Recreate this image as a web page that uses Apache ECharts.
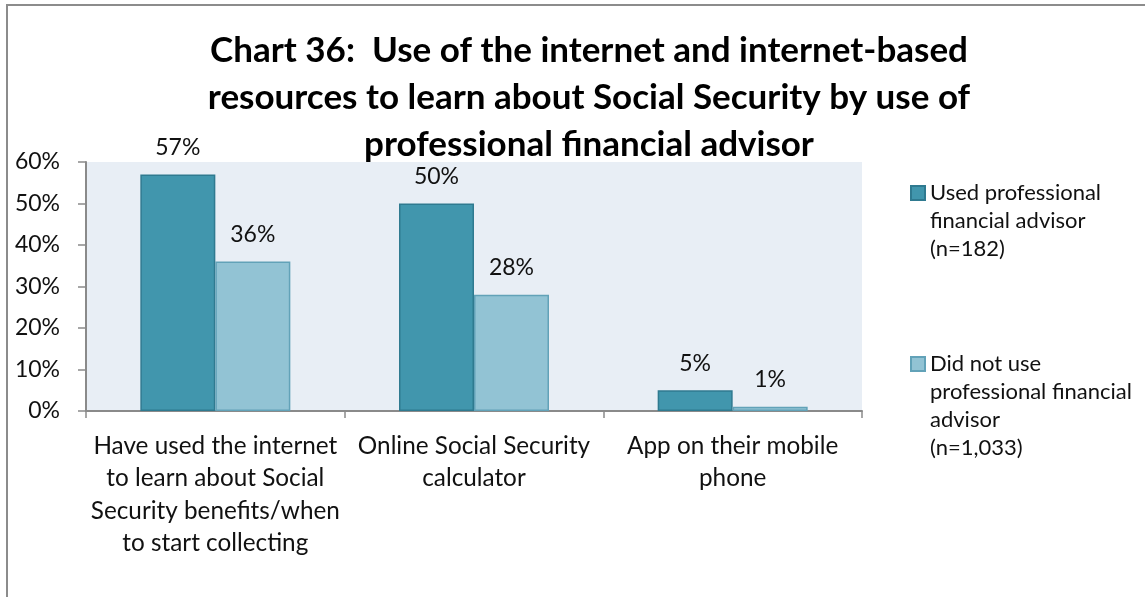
<!DOCTYPE html>
<html>
<head>
<meta charset="utf-8">
<script src="https://cdn.jsdelivr.net/npm/echarts@6/dist/echarts.min.js"></script>
<style>
  html, body { margin: 0; padding: 0; background: #ffffff; }
  #chart { width: 1145px; height: 597px; }
</style>
</head>
<body>
<div id="chart"></div>
<script>
// Survey results: share of respondents using each internet resource
const titleLines = [
  'Chart 36:  Use of the internet and internet-based',
  'resources to learn about Social Security by use of',
  'professional financial advisor'
];
const categories = [
  'Have used the internet\nto learn about Social\nSecurity benefits/when\nto start collecting',
  'Online Social Security\ncalculator',
  'App on their mobile\nphone'
];
const seriesNames = [
  'Used professional\nfinancial advisor\n(n=182)',
  'Did not use\nprofessional financial\nadvisor\n(n=1,033)'
];
const usedAdvisor = [57, 50, 5];
const noAdvisor = [36, 28, 1];
const yTicks = { min: 0, max: 60, interval: 10 };

const FONT = 'Lato, "Open Sans", sans-serif';
const TEXT = '#111111';
const AXIS = '#8a8a8a';
const LEGEND_LINE = 28;

const chart = echarts.init(document.getElementById('chart'), null, { renderer: 'canvas' });

const labelStyle = {
  show: true,
  position: 'top',
  distance: 16,
  formatter: '{c}%',
  fontFamily: FONT,
  fontSize: 23,
  lineHeight: 22,
  color: TEXT
};

// One legend block per series; leading blank lines keep the swatch
// level with the first line of the (vertically centred) label text
function legendBlock(name, top) {
  const lineCount = name.split('\n').length;
  return {
    orient: 'vertical',
    left: 910,
    top: top,
    padding: 0,
    itemWidth: 14,
    itemHeight: 14,
    icon: 'rect',
    selectedMode: false,
    data: [name],
    formatter: n => '\n'.repeat(lineCount - 1) + n,
    textStyle: {
      fontFamily: FONT,
      fontSize: 22,
      lineHeight: LEGEND_LINE,
      color: TEXT
    }
  };
}

chart.setOption({
  animation: false,
  backgroundColor: '#ffffff',
  graphic: [{
    type: 'rect',
    shape: { x: 7, y: 5, width: 1200, height: 700 },
    style: { fill: 'none', stroke: '#8c8c8c', lineWidth: 2 },
    silent: true,
    z: -10
  }],
  title: {
    text: titleLines.join('\n'),
    left: 584,
    textAlign: 'center',
    top: 22,
    textStyle: {
      fontFamily: FONT,
      fontWeight: 'bold',
      fontSize: 35,
      lineHeight: 47,
      color: '#000000'
    }
  },
  legend: [
    legendBlock(seriesNames[0], 123),
    legendBlock(seriesNames[1], 266)
  ],
  grid: {
    left: 86,
    right: 283,
    top: 162,
    bottom: 186,
    show: true,
    backgroundColor: '#e8eef5',
    borderWidth: 0
  },
  xAxis: {
    type: 'category',
    data: categories,
    axisLine: { lineStyle: { color: AXIS, width: 2 } },
    axisTick: { show: true, length: 7, lineStyle: { color: AXIS, width: 1.5 } },
    axisLabel: {
      margin: 19,
      interval: 0,
      fontFamily: FONT,
      fontSize: 24.3,
      lineHeight: 32.3,
      color: TEXT
    },
    splitLine: { show: false }
  },
  yAxis: {
    type: 'value',
    min: yTicks.min,
    max: yTicks.max,
    interval: yTicks.interval,
    axisLine: { show: true, lineStyle: { color: AXIS, width: 2 } },
    axisTick: { show: true, length: 8, lineStyle: { color: AXIS, width: 1.5 } },
    axisLabel: {
      formatter: '{value}%',
      margin: 26,
      fontFamily: FONT,
      fontSize: 23,
      color: TEXT
    },
    splitLine: { show: false }
  },
  series: [
    {
      name: seriesNames[0],
      type: 'bar',
      data: usedAdvisor,
      barWidth: 75,
      barGap: '0%',
      itemStyle: { color: '#4196ad', borderColor: '#2f7a90', borderWidth: 1.5 },
      label: labelStyle
    },
    {
      name: seriesNames[1],
      type: 'bar',
      data: noAdvisor,
      barWidth: 75,
      barGap: '0%',
      itemStyle: { color: '#92c3d4', borderColor: '#62a2b8', borderWidth: 1.5 },
      label: labelStyle
    }
  ]
});
</script>
</body>
</html>
